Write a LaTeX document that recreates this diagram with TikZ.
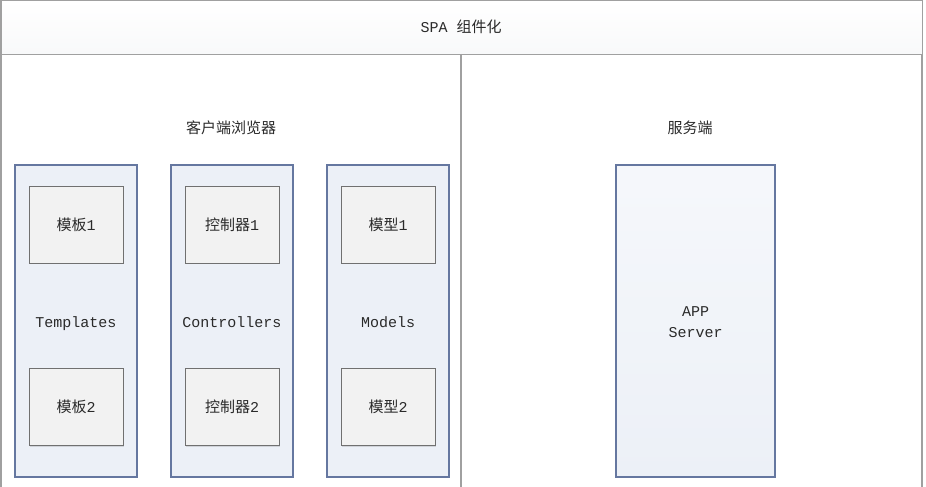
\documentclass[tikz,border=0pt]{standalone}
\usepackage{fontspec}
\setmainfont{Liberation Mono}
\newfontfamily\cjk{Noto Sans CJK SC}
\usetikzlibrary{shadows}
\definecolor{frameline}{HTML}{A0A0A0}
\definecolor{colfill}{HTML}{ECF0F7}
\definecolor{colline}{HTML}{6577A0}
\definecolor{boxfill}{HTML}{F2F2F2}
\definecolor{boxline}{HTML}{707070}
\definecolor{txt}{HTML}{2A2A2A}
\tikzset{
  every node/.style={text=txt, font=\fontsize{15}{18}\selectfont},
  colbox/.style={draw=colline, line width=1.2pt, fill=colfill, minimum width=122pt, minimum height=312pt, inner sep=0pt},
  srvbox/.style={draw=colline, line width=1.2pt, top color=colfill!50!white, bottom color=colfill, minimum width=159pt, minimum height=312pt, inner sep=0pt},
  itembox/.style={draw=boxline, line width=1pt, fill=boxfill, minimum width=94pt, minimum height=77pt, inner sep=0pt, drop shadow={shadow xshift=1pt, shadow yshift=-1pt, opacity=0.25}},
  lbl/.style={inner sep=1pt}
}
\begin{document}
\begin{tikzpicture}[x=1pt, y=-1pt]
\useasboundingbox (0,0) rectangle (926,487);
\fill[white] (0,0) rectangle (926,487);
% outer frame
\draw[frameline, line width=1.8pt] (1,0) -- (1,487);
\draw[frameline, line width=1.8pt] (922,0) -- (922,487);
% title bar
\node[draw=frameline, line width=1.3pt, top color=white, bottom color=colfill!85!gray!20, minimum width=921pt, minimum height=54pt, inner sep=0pt, anchor=north west] (title) at (1,0) {};
\node[lbl] (titletxt) at (461,27) {SPA {\cjk 组件化}};
\coordinate (divtop) at (461,54);
\coordinate (divbot) at (461,487);
\draw[frameline, line width=1.4pt] (divtop) -- (divbot);
% section headings
\node[lbl] (client) at (231,128) {\cjk 客户端浏览器};
\node[lbl] (server) at (690,128) {\cjk 服务端};
% columns
\node[colbox] (tcol) at (76,321) {};
\node[colbox] (ccol) at (232,321) {};
\node[colbox] (mcol) at (388,321) {};
\node[srvbox] (scol) at (695.5,321) {};
% column labels
\node[lbl, anchor=base] (tlab) at (76,327) {Templates};
\node[lbl, anchor=base] (clab) at (232,327) {Controllers};
\node[lbl, anchor=base] (mlab) at (388,327) {Models};
\node[lbl, align=center, font=\fontsize{15}{21}\selectfont] (slab) at (695.5,322) {APP\\Server};
% items
\node[itembox] (t1) at (76,224.5) {{\cjk 模板}1};
\node[itembox] (t2) at (76,407) {{\cjk 模板}2};
\node[itembox] (c1) at (232,224.5) {{\cjk 控制器}1};
\node[itembox] (c2) at (232,407) {{\cjk 控制器}2};
\node[itembox] (m1) at (388,224.5) {{\cjk 模型}1};
\node[itembox] (m2) at (388,407) {{\cjk 模型}2};
\end{tikzpicture}
\end{document}
